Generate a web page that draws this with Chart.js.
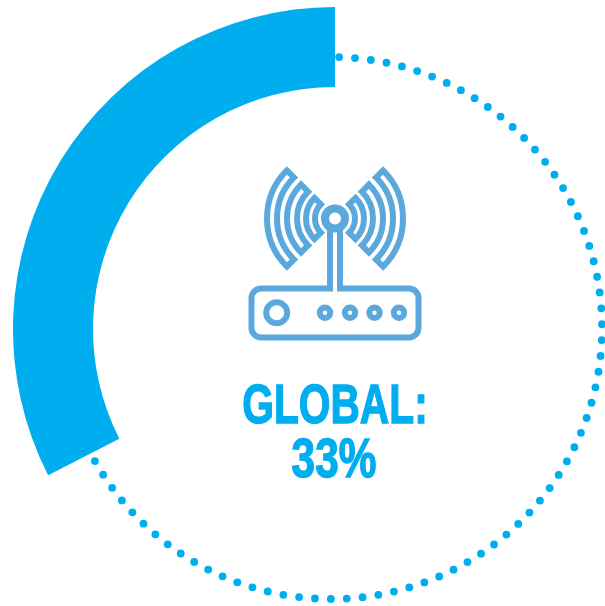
<!DOCTYPE html>
<html>
<head>
<meta charset="utf-8">
<script src="https://cdn.jsdelivr.net/npm/chart.js@4"></script>
<style>
html, body { margin: 0; padding: 0; background: #fff; overflow: hidden; width: 605px; height: 606px; }
#pieChart { position: absolute; left: 13px; top: 7px; }
.label { position: absolute; left: 135px; width: 400px; text-align: center; color: #00aeef;
  font-family: "Liberation Sans", sans-serif; font-weight: bold; -webkit-text-stroke: 1.4px #00aeef; }
</style>
</head>
<body>
<canvas id="pieChart" width="644" height="644"></canvas>
<div class="label" style="top:373px;font-size:55px;line-height:62px;transform:scaleX(0.74)">GLOBAL:</div>
<div class="label" style="top:427px;left:134px;font-size:55px;line-height:62px;transform:scaleX(0.77)">33%</div>
<script>
const labels = ['Rest', 'Global']
const shares = [67.5, 32.5]
const dotCount = 72

const brandBlue = '#00aeef'
const iconBlue = '#5ba8dd'

// dots sit on their own circle, a little left of the ring's centre
const dottedRing = {
    id: 'dottedRing',
    afterDatasetsDraw(chart) {
        const arc = chart.getDatasetMeta(0).data[0]
        const ctx = chart.ctx
        const r = 271
        const x0 = arc.x - 4
        const y0 = arc.y - 1
        const start = arc.startAngle + 0.03
        const step = (arc.endAngle - start - 0.042) / (dotCount - 1)
        ctx.save()
        ctx.fillStyle = brandBlue
        for (let i = 0; i < dotCount; i++) {
            const a = start + i * step
            ctx.beginPath()
            ctx.arc(x0 + r * Math.cos(a), y0 + r * Math.sin(a), 3.9, 0, Math.PI * 2)
            ctx.fill()
        }
        ctx.restore()
    }
}

const sector = (ctx, cx, cy, mid, outer, inner) => {
    const half = 45 * Math.PI / 180
    ctx.beginPath()
    ctx.arc(cx, cy, outer, mid - half, mid + half)
    ctx.arc(cx, cy, inner, mid + half, mid - half, true)
    ctx.closePath()
    ctx.stroke()
}

// router icon in the middle, canvas coordinates are page minus canvas offset
const routerIcon = {
    id: 'routerIcon',
    afterDraw(chart) {
        const ctx = chart.ctx
        ctx.save()
        ctx.translate(-13, -7)
        ctx.strokeStyle = iconBlue
        ctx.lineWidth = 6
        ctx.lineJoin = 'miter'
        const cx = 335
        const cy = 218.5
        ;[[68, 58], [48, 38], [29, 20]].forEach(([o, i]) => {
            sector(ctx, cx, cy, Math.PI, o, i)
            sector(ctx, cx, cy, 0, o, i)
        })
        ctx.lineWidth = 8
        ctx.beginPath()
        ctx.arc(cx, cy, 10, 0, Math.PI * 2)
        ctx.stroke()
        ctx.lineWidth = 6
        // body with the stem coming out of the top
        ctx.beginPath()
        ctx.moveTo(330, 230)
        ctx.lineTo(330, 288.5)
        ctx.lineTo(261, 288.5)
        ctx.arcTo(251.5, 288.5, 251.5, 298, 9.5)
        ctx.lineTo(251.5, 328)
        ctx.arcTo(251.5, 337.5, 261, 337.5, 9.5)
        ctx.lineTo(409, 337.5)
        ctx.arcTo(418.5, 337.5, 418.5, 328, 9.5)
        ctx.lineTo(418.5, 298)
        ctx.arcTo(418.5, 288.5, 409, 288.5, 9.5)
        ctx.lineTo(340, 288.5)
        ctx.lineTo(340, 230)
        ctx.stroke()
        ctx.beginPath()
        ctx.arc(276.7, 312.8, 10.5, 0, Math.PI * 2)
        ctx.stroke()
        ;[325, 350, 374.5, 399].forEach((x) => {
            ctx.beginPath()
            ctx.arc(x, 312.8, 5.2, 0, Math.PI * 2)
            ctx.stroke()
        })
        ctx.restore()
    }
}

new Chart(document.getElementById('pieChart'), {
    type: 'doughnut',
    data: {
        labels,
        datasets: [{
            data: shares,
            borderWidth: 0,
            backgroundColor: ['rgba(0,0,0,0)', brandBlue]
        }]
    },
    options: {
        responsive: false,
        animation: false,
        cutout: 242,
        plugins: { legend: { display: false }, tooltip: { enabled: false } }
    },
    plugins: [dottedRing, routerIcon]
})
</script>
</body>
</html>
